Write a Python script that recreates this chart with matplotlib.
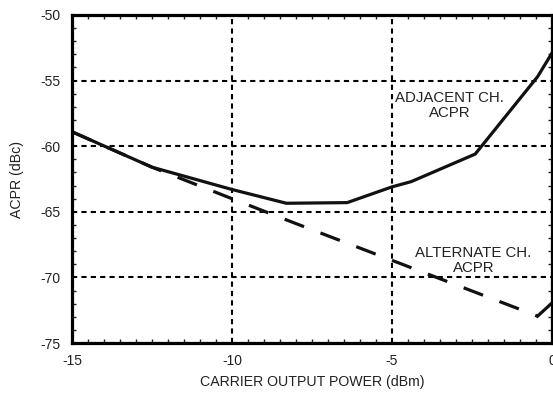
import matplotlib.pyplot as plt
from matplotlib.ticker import MultipleLocator

plt.rcParams['font.family'] = ['Liberation Sans', 'DejaVu Sans']
plt.rcParams['axes.unicode_minus'] = False

# Adjacent channel ACPR (solid)
adj_pout = [-15, -12.5, -10, -8.3, -6.4, -5, -4.4, -2.4, -0.45, 0]
adj_acpr = [-58.9, -61.6, -63.3, -64.35, -64.3, -63.1, -62.7, -60.6, -54.7, -52.9]

# Alternate channel ACPR (dashed)
alt_pout = [-15, -12.5, -10, -8, -5, -0.45, 0]
alt_acpr = [-58.9, -61.6, -64.0, -65.9, -68.7, -72.95, -71.95]

fig = plt.figure(figsize=(5.53, 3.93), dpi=100)
ax = fig.add_axes([72 / 553, 1 - 343 / 393, 480 / 553, 328 / 393])

ax.plot(adj_pout, adj_acpr, color='#111111', lw=2.3)
ax.plot(alt_pout[:-1], alt_acpr[:-1], color='#111111', lw=2.3, dashes=(6.5, 5.5))
ax.plot(alt_pout[-2:], alt_acpr[-2:], color='#111111', lw=2.3)

ax.set_xlim(-15, 0)
ax.set_ylim(-75, -50)
ax.xaxis.set_major_locator(MultipleLocator(5))
ax.xaxis.set_minor_locator(MultipleLocator(0.5))
ax.yaxis.set_major_locator(MultipleLocator(5))
ax.yaxis.set_minor_locator(MultipleLocator(1))
ax.tick_params(which='both', direction='in', top=True, right=True,
               labelsize=10, colors='#222222')
ax.tick_params(which='major', length=0, pad=8)
ax.tick_params(which='minor', length=3, width=1)
ax.grid(True, which='major', color='black', linestyle=(0, (2.5, 2)), lw=1.5)
for s in ax.spines.values():
    s.set_linewidth(2.3)

ax.set_xlabel('CARRIER OUTPUT POWER (dBm)', fontsize=10.2, color='#222222', labelpad=5)
ax.set_ylabel('ACPR (dBc)', fontsize=10.2, color='#222222', labelpad=12)

ax.text(-3.2, -56.9, 'ADJACENT CH.\nACPR', ha='center', va='center',
        fontsize=10.8, color='#222222', linespacing=1.05)
ax.text(-2.45, -68.7, 'ALTERNATE CH.\nACPR', ha='center', va='center',
        fontsize=10.8, color='#222222', linespacing=1.05)

fig.savefig('out.png', dpi=100)
